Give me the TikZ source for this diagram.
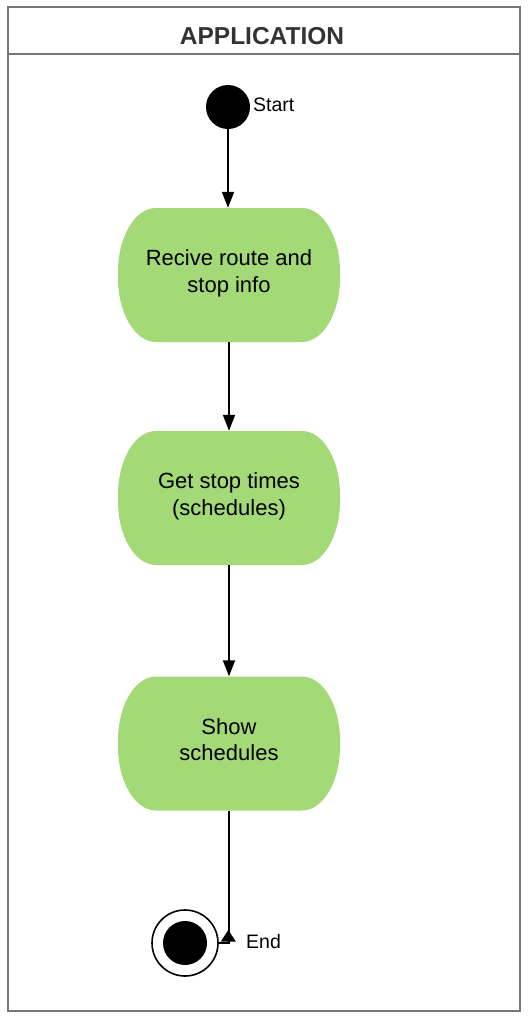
\documentclass[tikz,border=0pt]{standalone}
\usepackage{fontspec}
\setmainfont{Liberation Sans}
\usetikzlibrary{arrows.meta,calc}
\definecolor{actgreen}{HTML}{A3D977}
\definecolor{framegray}{HTML}{777777}
\definecolor{titlegray}{HTML}{333333}
\begin{document}
\begin{tikzpicture}[x=1pt,y=-1pt,
  frame/.style={draw=framegray,line width=2pt},
  act/.style={minimum width=222pt,minimum height=134pt,inner sep=0pt,align=center,
    font=\fontsize{22}{26.5}\selectfont,
    path picture={
      \fill[actgreen] let \p1=(path picture bounding box.south west),
                          \p2=(path picture bounding box.north east) in
        (\x1+38pt,\y2) -- (\x2-38pt,\y2)
        arc[start angle=90,end angle=0,x radius=38pt,y radius=64pt]
        -- (\x2,\y1+64pt)
        arc[start angle=0,end angle=-90,x radius=38pt,y radius=64pt]
        -- (\x1+38pt,\y1)
        arc[start angle=270,end angle=180,x radius=38pt,y radius=64pt]
        -- (\x1,\y2-64pt)
        arc[start angle=180,end angle=90,x radius=38pt,y radius=64pt]
        -- cycle;}},
  arr/.style={line width=1.8pt,-{Triangle[length=16pt,width=12pt]}},
  lbl/.style={anchor=west,inner sep=0pt,font=\fontsize{19.5}{22}\selectfont}]
\useasboundingbox (0,0) rectangle (527,1019);
\fill[white] (0,0) rectangle (527,1019);
\draw[frame] (8,7) rectangle (519.5,1011);
\draw[frame] (8,54) -- (519.5,54);
\node[font=\bfseries\fontsize{24.5}{28}\selectfont,text=titlegray] (title) at (262,36) {APPLICATION};
\node[circle,fill=black,minimum size=44pt,inner sep=0pt] (start) at (228,107) {};
\node[lbl] (startlbl) at (253,105) {Start};
\node[act] (recv) at (229,275) {Recive route and\\stop info\strut};
\node[act] (get) at (229,498) {Get stop times\\(schedules)\strut};
\node[act] (show) at (229,743.5) {Show\\schedules\strut};
\node[circle,draw=black,line width=1.6pt,minimum size=66pt,inner sep=0pt] (end) at (185,943) {};
\node[circle,fill=black,minimum size=44pt,inner sep=0pt] (endin) at (end.center) {};
\node[lbl] (endlbl) at (246,942) {End};
\draw[arr] (start.south) -- (start.south |- recv.north);
\draw[arr] (recv.south) -- (get.north);
\draw[arr] (get.south) -- (show.north);
\draw[line width=1.8pt] (show.south) |- (end.east);
\fill[black] ($(end.east)+(9.5,-13)$) -- ($(end.east)+(2,-1.5)$) -- ($(end.east)+(17,-1.5)$) -- cycle;
\end{tikzpicture}
\end{document}
